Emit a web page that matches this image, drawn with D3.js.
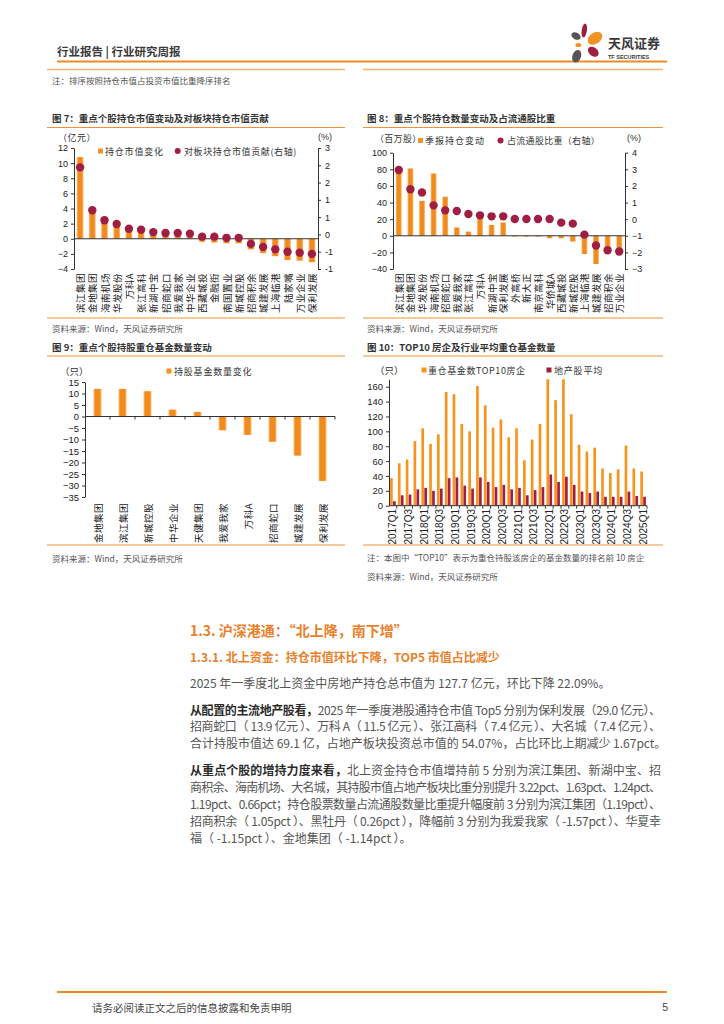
<!DOCTYPE html>
<html><head><meta charset="utf-8">
<script src="https://cdn.jsdelivr.net/npm/d3@7"></script>
<style>body{margin:0;background:#fff}svg{display:block}</style>
</head><body>
<script>
// ---------- DATA ----------
const cats7 = ["滨江集团","金地集团","海南机场","华发股份","万科A","张江高科","新湖中宝","招商蛇口","我爱我家","中华企业","西藏城投","金融街","南国置业","新城控股","招商积余","城建发展","上海临港","陆家嘴","万业企业","保利发展"];
const bars7 = [10.8, 3.7, 2.5, 1.9, 1.3, 1.2, 0.8, 0.7, 0.6, 0.4, -0.4, -0.5, -0.6, -0.6, -1.4, -1.9, -2.3, -2.8, -2.9, -3.1];
const dots7 = [2.36, 0.94, 0.61, 0.49, 0.33, 0.30, 0.22, 0.19, 0.19, 0.17, 0.07, 0.07, 0.03, 0.03, -0.17, -0.27, -0.35, -0.43, -0.46, -0.50];
const leftTicks7 = [12, 10, 8, 6, 4, 2, 0, -2, -4];
const rightLabels7 = ["3","2","2","1","1","0","-1","-1"];

const cats8 = ["滨江集团","金地集团","华发股份","海南机场","招商蛇口","我爱我家","张江高科","万科A","新湖中宝","保利发展","外高桥","新大正","南京高科","华侨城A","西藏城投","新城控股","上海临港","城建发展","招商积余","万业企业"];
const bars8 = [81, 81, 42, 75, 47, 10, 5, 22, 13, 16, -1, -1, -1, -3, -3, -7, -22, -34, -17, -20];
const dots8 = [2.96, 1.80, 1.61, 0.83, 0.53, 0.49, 0.31, 0.23, 0.17, 0.17, 0.01, 0.01, 0.01, 0.01, -0.21, -0.27, -0.93, -1.59, -1.87, -1.95];
const leftTicks8 = [100, 80, 60, 40, 20, 0, -20, -40];
const rightTicks8 = [4, 3, 2, 1, 0, -1, -2, -3];

const cats9 = ["金地集团","滨江集团","新城控股","中华企业","天健集团","我爱我家","万科A","招商蛇口","城建发展","保利发展"];
const vals9 = [12, 12, 11, 3, 2, -6, -8, -11, -17, -28];
const ticks9 = [15, 10, 5, 0, -5, -10, -15, -20, -25, -30, -35];

const quarters10 = ["2017Q1","2017Q2","2017Q3","2017Q4","2018Q1","2018Q2","2018Q3","2018Q4","2019Q1","2019Q2","2019Q3","2019Q4","2020Q1","2020Q2","2020Q3","2020Q4","2021Q1","2021Q2","2021Q3","2021Q4","2022Q1","2022Q2","2022Q3","2022Q4","2023Q1","2023Q2","2023Q3","2023Q4","2024Q1","2024Q2","2024Q3","2024Q4","2025Q1"];
const top10 = [37, 57, 62, 87, 104, 83, 96, 153, 150, 110, 100, 161, 135, 105, 116, 92, 104, 61, 89, 110, 170, 142, 170, 123, 82, 73, 78, 50, 44, 49, 81, 50, 46];
const avg10 = [6, 14, 15, 22, 24, 20, 23, 37, 38, 27, 23, 38, 32, 25, 28, 22, 24, 14, 21, 25, 42, 32, 39, 28, 19, 17, 19, 12, 12, 12, 19, 13, 12];
const ticks10 = [0, 20, 40, 60, 80, 100, 120, 140, 160];

// ---------- SETUP ----------
const FONT = "'Noto Sans CJK SC','Noto Sans',sans-serif";
const NUMF = "'Liberation Sans','DejaVu Sans',sans-serif";
const OR = "#F39224", DR = "#A11E43", LN = "#F0913A", TXT = "#333";
const svg = d3.select("body").append("svg").attr("width",724).attr("height",1024);
svg.append("rect").attr("width",724).attr("height",1024).attr("fill","#fff");
const defs = svg.append("defs");
const gr = defs.append("linearGradient").attr("id","gOr").attr("x1",0).attr("x2",1).attr("y1",0).attr("y2",0);
[[0,"#F8BD80"],[0.25,"#F28B1C"],[0.75,"#F28B1C"],[1,"#F8BD80"]].forEach(s=>gr.append("stop").attr("offset",s[0]).attr("stop-color",s[1]));

function T(x,y,s,o={}){
  const t = svg.append("text").attr("x",x).attr("y",y).attr("dominant-baseline","central")
    .attr("font-family",o.f||FONT).attr("font-size",o.s||9).attr("fill",o.c||TXT).text(s);
  if(o.w) t.attr("font-weight",o.w);
  if(o.a) t.attr("text-anchor",o.a);
  if(o.ls) t.attr("letter-spacing",o.ls);
  return t;
}
function L(x1,y1,x2,y2,c,w){ svg.append("line").attr("x1",x1).attr("y1",y1).attr("x2",x2).attr("y2",y2).attr("stroke",c).attr("stroke-width",w); }

function styleAxis(g, fs){
  g.select(".domain").attr("stroke","#333").attr("stroke-width",1);
  g.selectAll(".tick line").attr("stroke","#333");
  g.selectAll(".tick text").attr("font-family",NUMF).attr("font-size",fs).attr("fill","#222");
}
function rotLabels(x, cats, yTop, fs, ff, ls){
  cats.forEach(c=>{
    svg.append("text").attr("transform",`translate(${x(c)+x.bandwidth()/2},${yTop}) rotate(-90)`)
      .attr("text-anchor","end").attr("dominant-baseline","central")
      .attr("font-family",ff||FONT).attr("font-size",fs).attr("fill","#222")
      .attr("letter-spacing",ls||0).text(c);
  });
}
function bandTicks(x, n, y, x0){
  const step = x.step();
  for(let i=1;i<n;i++){ L(x0+i*step, y, x0+i*step, y+3, "#333", 1); }
}
const fmt = d3.format("d");

// ---------- HEADER ----------
T(57,51,"行业报告 | 行业研究周报",{s:11.5,w:"bold",c:"#3a3a3a"});
L(57,61.5,667,61.5,"#EE8A28",2);
const lg = svg.append("g");
[[584.3,30.5,2.6,7,8,DR],[576,36,5,3.4,30,"#555"],[595,38.3,8,5.5,-35,OR],[578.3,45,3,2,0,OR],[593.3,51.7,6,4.3,40,DR],[576.7,56.2,4.3,6.5,20,"#555"]]
 .forEach(p=>lg.append("ellipse").attr("cx",p[0]).attr("cy",p[1]).attr("rx",p[2]).attr("ry",p[3]).attr("transform",`rotate(${p[4]},${p[0]},${p[1]})`).attr("fill",p[5]));
T(608,42,"天风证券",{s:13,w:"bold",c:"#3a3a3a"});
T(608,56.5,"TF SECURITIES",{s:5.5,w:"bold",c:"#3a3a3a",f:NUMF});
L(47,69.5,345,69.5,"#F6B27A",1.5);
L(363,69.5,663,69.5,"#F6B27A",1.5);
T(52,80,"注：排序按照持仓市值占投资市值比重降序排名",{s:8.5,c:"#555"});

// ---------- CHART 7 ----------
T(52,117.5,"图 7：重点个股持仓市值变动及对板块持仓市值贡献",{s:9.5,w:"bold",c:"#333"});
L(47,127.5,345,127.5,LN,1);
(function(){
  const x0=74,x1=318,yt=148,yb=269;
  const x = d3.scaleBand().domain(cats7).range([x0,x1]).paddingInner(0.45).paddingOuter(0.225);
  const yL = d3.scaleLinear().domain([-4,12]).range([yb,yt]);
  const yR = d3.scaleLinear().domain([-1,3]).range([yb,yt]);
  svg.selectAll("rect.b7").data(bars7).join("rect").attr("class","b7")
    .attr("x",(d,i)=>x(cats7[i])).attr("width",x.bandwidth())
    .attr("y",d=>yL(Math.max(0,d))).attr("height",d=>Math.abs(yL(d)-yL(0))).attr("fill","url(#gOr)");
  L(x0,yL(0),x1,yL(0),"#333",1);
  const ga = svg.append("g").attr("transform",`translate(${x0},0)`)
    .call(d3.axisLeft(yL).tickValues(leftTicks7).tickFormat(fmt).tickSize(3).tickPadding(3).tickSizeOuter(0));
  styleAxis(ga,9);
  const rv = rightLabels7.map((d,i)=>3-i*4/(rightLabels7.length-1));
  const gb = svg.append("g").attr("transform",`translate(${x1},0)`)
    .call(d3.axisRight(yR).tickValues(rv).tickFormat((d,i)=>rightLabels7[i]).tickSize(3).tickPadding(4).tickSizeOuter(0));
  styleAxis(gb,9);
  svg.selectAll("circle.d7").data(dots7).join("circle").attr("class","d7")
    .attr("cx",(d,i)=>x(cats7[i])+x.bandwidth()/2).attr("cy",d=>yR(d)).attr("r",4.2).attr("fill",DR);
  rotLabels(x,cats7,273,9.5,FONT,0.5);
  T(58,137,"（亿元）",{s:9,ls:0.5});
  T(318,137,"(%)",{s:9,f:NUMF});
  svg.append("rect").attr("x",98).attr("y",148.5).attr("width",5).attr("height",5).attr("fill",OR);
  T(105,151,"持仓市值变化",{s:9,ls:0.8});
  svg.append("circle").attr("cx",177.7).attr("cy",151).attr("r",3).attr("fill",DR);
  T(184,151,"对板块持仓市值贡献(右轴)",{s:9,ls:0.6});
})();
L(47,318,345,318,LN,1);
T(52,328,"资料来源：Wind，天风证券研究所",{s:8.5,c:"#555"});

// ---------- CHART 8 ----------
T(367,117.5,"图 8：重点个股持仓数量变动及占流通股比重",{s:9.5,w:"bold",c:"#333"});
L(363,127.5,663,127.5,LN,1);
(function(){
  const x0=393,x1=625,yt=152.7,yb=269;
  const x = d3.scaleBand().domain(cats8).range([x0,x1]).paddingInner(0.5).paddingOuter(0.25);
  const yL = d3.scaleLinear().domain([-40,100]).range([yb,yt]);
  const yR = d3.scaleLinear().domain([-3,4]).range([yb,yt]);
  svg.selectAll("rect.b8").data(bars8).join("rect").attr("class","b8")
    .attr("x",(d,i)=>x(cats8[i])).attr("width",x.bandwidth())
    .attr("y",d=>yL(Math.max(0,d))).attr("height",d=>Math.abs(yL(d)-yL(0))).attr("fill","url(#gOr)");
  L(x0,yL(0),x1,yL(0),"#333",1);
  const ga = svg.append("g").attr("transform",`translate(${x0},0)`)
    .call(d3.axisLeft(yL).tickValues(leftTicks8).tickFormat(fmt).tickSize(3).tickPadding(3).tickSizeOuter(0));
  styleAxis(ga,9);
  const gb = svg.append("g").attr("transform",`translate(${x1},0)`)
    .call(d3.axisRight(yR).tickValues(rightTicks8).tickFormat(fmt).tickSize(3).tickPadding(4).tickSizeOuter(0));
  styleAxis(gb,9);
  svg.selectAll("circle.d8").data(dots8).join("circle").attr("class","d8")
    .attr("cx",(d,i)=>x(cats8[i])+x.bandwidth()/2).attr("cy",d=>yR(d)).attr("r",4.2).attr("fill",DR);
  rotLabels(x,cats8,273,9.5,FONT,0.5);
  T(375,138,"（百万股）",{s:9,ls:0.3});
  T(627,138,"(%)",{s:9,f:NUMF});
  svg.append("rect").attr("x",418).attr("y",138).attr("width",5).attr("height",5).attr("fill",OR);
  T(425,140.5,"季报持仓变动",{s:9,ls:1});
  svg.append("circle").attr("cx",500.5).attr("cy",140.5).attr("r",3).attr("fill",DR);
  T(507,140.5,"占流通股比重（右轴）",{s:9,ls:0.3});
})();
L(363,318,663,318,LN,1);
T(367,328,"资料来源：Wind，天风证券研究所",{s:8.5,c:"#555"});

// ---------- CHART 9 ----------
T(52,347,"图 9：重点个股持股重仓基金数量变动",{s:9.5,w:"bold",c:"#333"});
L(47,356,345,356,LN,1);
(function(){
  const x0=85,x1=335,yt=382,yb=497;
  const x = d3.scaleBand().domain(cats9).range([x0,x1]).paddingInner(0.68).paddingOuter(0.34);
  const y = d3.scaleLinear().domain([-35,15]).range([yb,yt]);
  svg.selectAll("rect.b9").data(vals9).join("rect").attr("class","b9")
    .attr("x",(d,i)=>x(cats9[i])).attr("width",x.bandwidth())
    .attr("y",d=>y(Math.max(0,d))).attr("height",d=>Math.abs(y(d)-y(0))).attr("fill","url(#gOr)");
  L(x0,y(0),x1,y(0),"#333",1);
  bandTicks(x,cats9.length+1,y(0),x0);
  const ga = svg.append("g").attr("transform",`translate(${x0},0)`)
    .call(d3.axisLeft(y).tickValues(ticks9).tickFormat(fmt).tickSize(3).tickPadding(3).tickSizeOuter(0));
  styleAxis(ga,9.5);
  rotLabels(x,cats9,503,9.5,FONT,0.5);
  T(60,371,"（只）",{s:9.5});
  svg.append("rect").attr("x",166.5).attr("y",368.5).attr("width",5).attr("height",5).attr("fill",OR);
  T(174,371,"持股基金数量变化",{s:9,ls:0.8});
})();
L(47,545,345,545,LN,1);
T(52,558,"资料来源：Wind，天风证券研究所",{s:8.5,c:"#555"});

// ---------- CHART 10 ----------
T(367,347,"图 10：TOP10 房企及行业平均重仓基金数量",{s:9.5,w:"bold",c:"#333"});
L(363,356,663,356,LN,1);
(function(){
  const x0=389,x1=647,yt=379.3,yb=505.7;
  const x = d3.scaleBand().domain(quarters10).range([x0,x1]).paddingInner(0.28).paddingOuter(0.14);
  const sub = d3.scaleBand().domain(["a","b"]).range([0,x.bandwidth()]).paddingInner(0.1);
  const y = d3.scaleLinear().domain([0,170]).range([yb,yt]);
  svg.selectAll("rect.t10").data(top10).join("rect").attr("class","t10")
    .attr("x",(d,i)=>x(quarters10[i])+sub("a")).attr("width",sub.bandwidth())
    .attr("y",d=>y(d)).attr("height",d=>y(0)-y(d)).attr("fill","#F7941D");
  svg.selectAll("rect.a10").data(avg10).join("rect").attr("class","a10")
    .attr("x",(d,i)=>x(quarters10[i])+sub("b")).attr("width",sub.bandwidth())
    .attr("y",d=>y(d)).attr("height",d=>y(0)-y(d)).attr("fill",DR);
  L(x0,y(0),x1,y(0),"#333",1);
  bandTicks(x,quarters10.length+1,y(0),x0);
  const ga = svg.append("g").attr("transform",`translate(${x0},0)`)
    .call(d3.axisLeft(y).tickValues(ticks10).tickFormat(fmt).tickSize(3).tickPadding(3).tickSizeOuter(0));
  styleAxis(ga,9.5);
  rotLabels(x,quarters10.filter((d,i)=>i%2===0),509,10,NUMF,0);
  T(375,370,"（只）",{s:9.5});
  svg.append("rect").attr("x",421.5).attr("y",367.5).attr("width",5).attr("height",5).attr("fill","#F7941D");
  T(428,370,"重仓基金数TOP10房企",{s:9,ls:0.6});
  svg.append("rect").attr("x",546.5).attr("y",367.5).attr("width",5).attr("height",5).attr("fill",DR);
  T(554,370,"地产股平均",{s:9,ls:0.8});
})();
L(363,545,663,545,LN,1);
T(367,557,"注：本图中“TOP10”表示为重仓持股该房企的基金数量的排名前 10 房企",{s:8.5,c:"#555"});
T(367,576,"资料来源：Wind，天风证券研究所",{s:8.5,c:"#555"});

// ---------- TEXT SECTION ----------
const HC = "#E9802A";
T(190,630,"1.3. 沪深港通：“北上降，南下增”",{s:14,w:"bold",c:HC});
T(190,656,"1.3.1. 北上资金：持仓市值环比下降，TOP5 市值占比减少",{s:12,w:"bold",c:HC});
const BODY = "#555";
function para(lines, y0, lh){
  lines.forEach((ln,i)=>{
    const t = svg.append("text").attr("x",190).attr("y",y0+i*lh).attr("dominant-baseline","central")
      .attr("font-family",FONT).attr("font-size",12).attr("fill",BODY);
    if(ln.b) t.append("tspan").attr("font-weight","bold").attr("fill","#2a2a2a").text(ln.b);
    t.append("tspan").text(ln.t);
    if(!ln.last) t.attr("textLength",471).attr("lengthAdjust","spacing");
  });
}
para([{t:"2025 年一季度北上资金中房地产持仓总市值为 127.7 亿元，环比下降 22.09%。",last:true}],682,16.6);
para([
  {b:"从配置的主流地产股看，",t:"2025 年一季度港股通持仓市值 Top5 分别为保利发展（29.0 亿元）、"},
  {t:"招商蛇口（ 13.9 亿元 ）、万科 A（ 11.5 亿元 ）、张江高科（ 7.4 亿元 ）、大名城（ 7.4 亿元 ）、"},
  {t:"合计持股市值达 69.1 亿，占地产板块投资总市值的 54.07%，占比环比上期减少 1.67pct。",last:true}
],708.7,16.6);
para([
  {b:"从重点个股的增持力度来看，",t:"北上资金持仓市值增持前 5 分别为滨江集团、新湖中宝、招"},
  {t:"商积余、海南机场、大名城，其持股市值占地产板块比重分别提升 3.22pct、1.63pct、1.24pct、"},
  {t:"1.19pct、0.66pct；持仓股票数量占流通股数量比重提升幅度前 3 分别为滨江集团（1.19pct）、"},
  {t:"招商积余（ 1.05pct ）、黑牡丹（ 0.26pct ），降幅前 3 分别为我爱我家（ -1.57pct ）、华夏幸"},
  {t:"福（ -1.15pct ）、金地集团（ -1.14pct ）。",last:true}
],769,17);

// ---------- FOOTER ----------
L(57,992,667,992,"#EE8A28",2);
T(92,1007,"请务必阅读正文之后的信息披露和免责申明",{s:10.5,c:"#444"});
T(668,1007,"5",{s:10.5,c:"#444",f:NUMF,a:"end"});
</script>
</body></html>
